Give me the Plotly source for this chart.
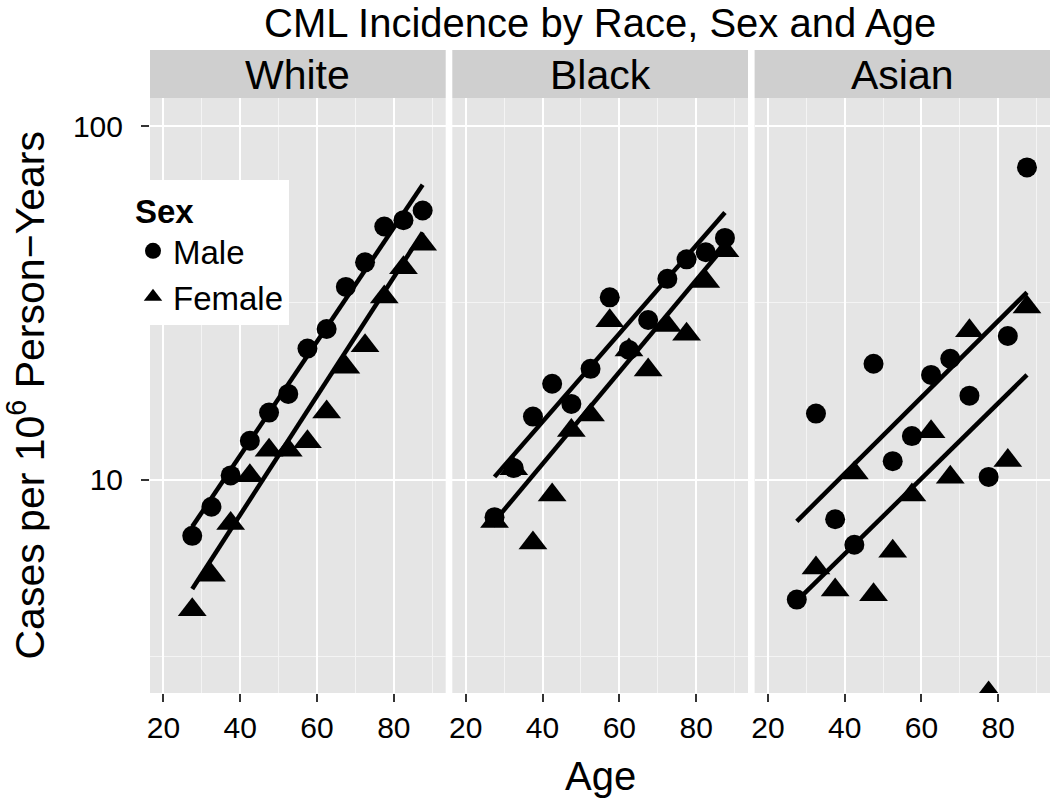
import math
import plotly.graph_objects as go

# ---------------- data ----------------
ages = [27.5, 32.5, 37.5, 42.5, 47.5, 52.5, 57.5, 62.5, 67.5, 72.5, 77.5, 82.5, 87.5]
races = ["White", "Black", "Asian"]

white_male = [6.95, 8.4, 10.3, 12.9, 15.5, 17.5, 23.5, 26.7, 35.1, 41.2, 52.0, 54.2, 57.7]
white_female = [4.3, 5.38, 7.53, 10.27, 12.13, 12.13, 12.81, 15.55, 20.83, 23.96, 32.86, 39.8, 46.36]
black_male = [7.85, 10.8, 15.1, 18.7, 16.4, 20.6, 32.8, 23.3, 28.3, 37.0, 42.0, 44.0, 48.3]
black_female = [7.63, 10.76, 6.63, 9.07, 13.79, 15.26, 28.17, 23.28, 20.44, 27.29, 25.82, 36.38, 44.4]
asian_male = [4.59, 15.4, 7.74, 6.56, 21.3, 11.3, 13.3, 19.8, 22.0, 17.3, 10.2, 25.5, 76.4]
asian_female = [None, 5.64, 4.89, 10.46, 4.74, 6.29, 9.07, 13.69, 10.17, 26.4, 2.5, 11.34, 30.8]

fit_ages = [27.5, 87.5]
white_male_fit = [7.38, 68.2]
white_female_fit = [4.92, 50.0]
black_male_fit = [10.2, 57.0]
black_female_fit = [7.64, 45.9]
asian_male_fit = [7.64, 33.9]
asian_female_fit = [4.55, 19.8]

x_ticks = [20, 40, 60, 80]
x_minor = [30, 50, 70, 90]
y_ticks = [10, 100]
y_tick_labels = ["10", "100"]
y_minor = [3.1623, 31.623]
x_limits = [16.5, 93.5]
y_limits = [2.5, 120]

males = [white_male, black_male, asian_male]
females = [white_female, black_female, asian_female]
male_fits = [white_male_fit, black_male_fit, asian_male_fit]
female_fits = [white_female_fit, black_female_fit, asian_female_fit]

# ---------------- geometry ----------------
W, H = 1050, 803
panel_left = [150, 452.3, 754.6]
panel_w = 295.7
plot_top, plot_bottom = 98, 693
strip_top = 50

def fx(px):
    return px / W

def fy(py):
    return 1 - py / H

FONT = "Liberation Sans, Arial, Helvetica, sans-serif"
PANEL_BG = "#E5E5E5"
STRIP_BG = "#CFCFCF"
INK = "#000000"

fig = go.Figure()

for i in range(3):
    xa = "x" if i == 0 else f"x{i+1}"
    ya = "y" if i == 0 else f"y{i+1}"
    for fit in (male_fits[i], female_fits[i]):
        fig.add_trace(go.Scatter(
            x=fit_ages, y=fit, mode="lines", xaxis=xa, yaxis=ya,
            line=dict(color=INK, width=4.5), showlegend=False, hoverinfo="skip"))
    fig.add_trace(go.Scatter(
        x=ages, y=males[i], mode="markers", xaxis=xa, yaxis=ya,
        name="Male", legendgroup="Male", showlegend=(i == 0),
        marker=dict(symbol="circle", size=20, color=INK)))
    fig.add_trace(go.Scatter(
        x=ages, y=females[i], mode="markers", xaxis=xa, yaxis=ya,
        name="Female", legendgroup="Female", showlegend=(i == 0),
        marker=dict(symbol="triangle-up", size=25, color=INK)))

layout = dict(
    width=W, height=H,
    margin=dict(l=0, r=0, t=0, b=0, autoexpand=False),
    paper_bgcolor="white", plot_bgcolor=PANEL_BG,
    font=dict(family=FONT, color=INK),
    showlegend=True,
    legend=dict(
        x=fx(133), y=fy(180), xanchor="left", yanchor="top",
        bgcolor="white", borderwidth=0,
        font=dict(size=33, color=INK, family=FONT),
        title=dict(text="<b>Sex</b>", font=dict(size=33, color=INK, family=FONT)),
        itemsizing="trace", tracegroupgap=0,
    ),
)

y_range = [math.log10(y_limits[0]), math.log10(y_limits[1])]
for i in range(3):
    xk = "xaxis" if i == 0 else f"xaxis{i+1}"
    yk = "yaxis" if i == 0 else f"yaxis{i+1}"
    anchor_y = "y" if i == 0 else f"y{i+1}"
    anchor_x = "x" if i == 0 else f"x{i+1}"
    left = panel_left[i]
    right = min(left + panel_w, W)
    layout[xk] = dict(
        domain=[fx(left), fx(right)], anchor=anchor_y, range=x_limits,
        tickmode="array", tickvals=x_ticks, ticktext=[str(t) for t in x_ticks],
        ticks="outside", ticklen=8, tickwidth=2, tickcolor="#333333",
        tickfont=dict(size=30, color=INK, family=FONT),
        showgrid=True, gridcolor="white", gridwidth=2.2,
        minor=dict(tickvals=x_minor, showgrid=True, gridcolor="#F4F4F4", gridwidth=1.2, ticks=""),
        zeroline=False, showline=False, fixedrange=True,
    )
    layout[yk] = dict(
        domain=[fy(plot_bottom), fy(plot_top)], anchor=anchor_x, type="log", range=y_range,
        tickmode="array", tickvals=y_ticks, ticktext=y_tick_labels,
        ticks="outside" if i == 0 else "", ticklen=8, tickwidth=2, tickcolor="#333333",
        showticklabels=(i == 0), ticklabelstandoff=12,
        tickfont=dict(size=30, color=INK, family=FONT),
        showgrid=True, gridcolor="white", gridwidth=2.2,
        minor=dict(tickvals=y_minor, showgrid=True, gridcolor="#F4F4F4", gridwidth=1.2, ticks=""),
        zeroline=False, showline=False, fixedrange=True,
    )
    if i > 0:
        layout[yk]["matches"] = "y"

shapes = []
annotations = []
for i, race in enumerate(races):
    left = panel_left[i]
    right = min(left + panel_w, W)
    shapes.append(dict(type="rect", xref="paper", yref="paper",
                       x0=fx(left), x1=fx(right), y0=fy(plot_top), y1=fy(strip_top),
                       fillcolor=STRIP_BG, line=dict(width=0), layer="below"))
    annotations.append(dict(text=race, xref="paper", yref="paper",
                            x=fx((left + left + panel_w) / 2), y=fy(75),
                            xanchor="center", yanchor="middle", showarrow=False,
                            font=dict(size=41, color=INK, family=FONT)))

annotations.append(dict(text="CML Incidence by Race, Sex and Age", xref="paper", yref="paper",
                        x=fx(600), y=fy(0), xanchor="center", yanchor="top",
                        showarrow=False, borderpad=0,
                        font=dict(size=40, color=INK, family=FONT)))
annotations.append(dict(text="Age", xref="paper", yref="paper",
                        x=fx(600), y=fy(776), xanchor="center", yanchor="middle",
                        showarrow=False, font=dict(size=40, color=INK, family=FONT)))
annotations.append(dict(text="Cases per 10<sup>6</sup> Person\u2212Years", xref="paper", yref="paper",
                        x=fx(26), y=fy(395.5), xanchor="center", yanchor="middle", textangle=-90,
                        height=46, valign="middle",
                        showarrow=False, font=dict(size=41, color=INK, family=FONT)))

layout["shapes"] = shapes
layout["annotations"] = annotations
fig.update_layout(**layout)

fig.write_html(
    "out.html",
    config={"displayModeBar": False},
    post_script="document.body.style.margin='0';document.body.style.padding='0';",
)
